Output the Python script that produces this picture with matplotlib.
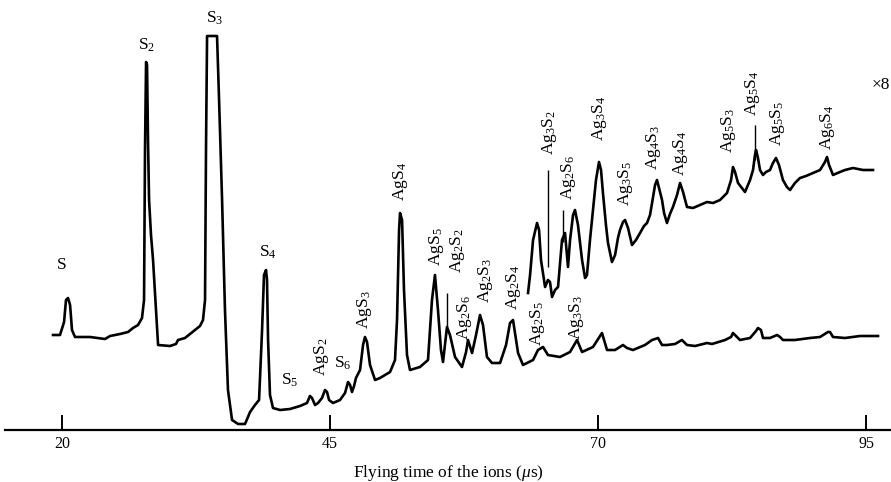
import matplotlib
matplotlib.use("Agg")
import matplotlib.pyplot as plt

# flying time (us) and signal (arbitrary units) of the main trace
main_t = [19.16, 19.81, 20.19, 20.37, 20.56, 20.75, 20.93, 21.21, 22.61, 24.01, 24.48, 25.41, 26.16,
          26.62, 27.09, 27.46, 27.65, 27.74, 27.84, 27.93, 28.02, 28.12, 28.30, 28.49, 28.96, 30.07,
          30.63, 30.82, 31.47, 31.94, 32.41, 32.87, 33.15, 33.34, 33.43, 33.53, 34.46, 34.65, 34.93,
          35.20, 35.48, 35.86, 36.42, 37.07, 37.54, 38.00, 38.38, 38.66, 38.84, 39.03, 39.12, 39.22,
          39.40, 39.68, 40.34, 41.27, 42.20, 42.85, 43.13, 43.32, 43.60, 43.88, 44.25, 44.53, 44.72,
          44.91, 45.28, 45.93, 46.40, 46.68, 46.87, 47.05, 47.24, 47.42, 47.80, 48.08, 48.26, 48.45,
          48.73, 49.20, 49.66, 50.60, 51.06, 51.25, 51.44, 51.53, 51.72, 51.90, 52.18, 52.46, 53.39,
          54.14, 54.51,
          54.79, 55.07, 55.35, 55.54, 55.72, 55.91, 56.19, 56.66, 57.31, 57.69, 57.87, 58.25, 58.62,
          58.99, 59.27, 59.64, 60.11, 60.86, 61.42, 61.79, 62.07, 62.54, 63.00, 63.94, 64.40, 64.87,
          65.33, 66.45, 67.39, 68.04, 68.51, 69.53, 70.37, 70.84,
          71.59, 72.33, 72.70, 73.26, 74.38, 75.04, 75.60, 75.97, 76.43, 77.18, 77.83, 78.30, 79.05,
          80.17, 80.63, 81.85, 82.41, 82.59, 82.87, 83.24, 84.18, 84.74, 84.92, 85.20, 85.39, 86.04,
          86.70, 86.98, 87.25, 88.37, 89.77, 90.71, 91.45, 91.64, 91.92, 93.04, 94.44, 96.12]
main_y = [95, 95, 108, 130, 132, 125, 100, 93, 93, 91, 94, 96, 98, 102, 105, 112, 130, 280, 368, 365,
          290, 230, 195, 170, 85, 84, 86, 90, 92, 96, 100, 104, 110, 130, 280, 394, 394, 330, 230, 120,
          40, 10, 6, 6, 18, 25, 30, 100, 155, 160, 150, 90, 35, 22, 20, 21, 24, 27, 34, 32, 25, 27, 32,
          40, 38, 30, 27, 30, 37, 48, 45, 38, 44, 52, 60, 85, 93, 88, 65, 50, 52, 58, 70, 110, 200, 217,
          210, 140, 75, 60, 63, 70, 130,
          155, 120, 80, 68, 85, 103, 95, 73, 63, 78, 90, 77, 95, 115, 105, 73, 67, 67, 85, 107, 110,
          77, 65, 70, 80, 83, 75, 73, 78, 90, 78, 83, 97, 80,
          80, 85, 82, 80, 85, 90, 92, 85, 85, 86, 90, 85, 84, 87, 86, 90, 93, 97, 94, 90, 92, 99, 102,
          100, 92, 92, 95, 93, 90, 90, 92, 93, 98, 98, 93, 92, 94, 94]

# expanded (x8) trace
zoom_t = [63.47, 63.66, 63.94, 64.31, 64.50, 64.68, 65.06, 65.33, 65.52, 65.71, 65.99, 66.27, 66.64,
          66.92, 67.20, 67.39, 67.67, 67.85, 68.13, 68.51, 68.79, 68.97, 69.25, 69.53, 69.81, 70.09,
          70.28, 70.46, 70.74, 70.93, 71.30, 71.59, 71.86, 72.05, 72.33, 72.52, 72.80, 73.17, 73.54,
          73.92, 74.29, 74.57, 74.85, 75.04, 75.32, 75.50, 75.69, 75.97, 76.16, 76.43, 76.71, 76.99,
          77.37, 77.65, 77.93, 78.30, 78.86, 79.51, 80.17, 80.73, 81.38, 82.03, 82.41, 82.59, 82.78,
          83.06, 83.71, 84.18, 84.46, 84.64, 84.74, 84.92, 85.11, 85.39, 85.67, 86.04, 86.32, 86.60,
          86.88, 87.25, 87.62, 87.91, 88.37, 88.84, 89.40, 90.05, 90.71, 91.17, 91.36, 91.55, 91.92,
          92.57, 93.04, 93.78, 94.72, 95.65]
zoom_y = [137, 155, 190, 207, 200, 170, 143, 150, 148, 133, 140, 143, 190, 197, 163, 190, 215, 220,
          205, 170, 152, 155, 190, 220, 250, 268, 260, 237, 205, 187, 168, 175, 192, 200, 208, 210,
          202, 185, 190, 197, 204, 207, 215, 227, 245, 250, 242, 230, 217, 207, 216, 223, 235, 247,
          238, 223, 222, 225, 228, 227, 230, 237, 250, 263, 258, 247, 238, 250, 260, 275, 280, 272,
          260, 255, 258, 260, 267, 272, 265, 250, 243, 240, 247, 252, 254, 257, 260, 268, 273, 265,
          255, 258, 260, 262, 260, 260]

# peak labels: text, time, height, rotation
labels = ["S", "S$_2$", "S$_3$", "S$_4$", "S$_5$", "S$_6$",
          "AgS$_2$", "AgS$_3$", "AgS$_4$", "AgS$_5$", "Ag$_2$S$_2$", "Ag$_2$S$_6$", "Ag$_2$S$_3$",
          "Ag$_2$S$_4$", "Ag$_2$S$_5$", "Ag$_3$S$_3$", "Ag$_3$S$_2$", "Ag$_2$S$_6$", "Ag$_3$S$_4$",
          "Ag$_3$S$_5$", "Ag$_4$S$_3$", "Ag$_4$S$_4$", "Ag$_5$S$_3$", "Ag$_5$S$_4$", "Ag$_5$S$_5$",
          "Ag$_6$S$_4$"]
label_t = [20.0, 27.84, 34.27, 39.22, 41.27, 46.21, 44.25, 48.26, 51.53, 54.89, 56.85, 57.59, 59.46,
           62.07, 64.40, 67.95, 65.52, 67.20, 70.18, 72.52, 75.13, 77.65, 82.13, 84.37, 86.70, 91.36]
label_y = [165, 385, 412, 178, 50, 67, 73, 120, 248, 183, 180, 113, 150, 143, 107, 113, 298, 253,
           312, 247, 283, 277, 300, 337, 307, 303]
label_rot = [0] * 6 + [90] * 20

# thin leader lines: time, bottom, top
lead_t = [65.33, 66.74, 55.91, 84.64]
lead_lo = [163, 188, 103, 270]
lead_hi = [260, 220, 137, 305]

plt.rcParams["font.family"] = ["Liberation Serif", "DejaVu Serif"]
plt.rcParams["mathtext.fontset"] = "custom"
plt.rcParams["mathtext.rm"] = "Liberation Serif"
plt.rcParams["mathtext.it"] = "Liberation Serif:italic"

fig = plt.figure(figsize=(8.91, 4.82), dpi=100)
ax = fig.add_axes([5 / 891, 52 / 482, 886 / 891, 430 / 482])

ax.plot(main_t, main_y, color="black", lw=1.9, solid_joinstyle="round")
ax.plot(zoom_t, zoom_y, color="black", lw=1.9, solid_joinstyle="round")
ax.vlines(lead_t, lead_lo, lead_hi, color="black", lw=1.0)

for txt, t, y, r in zip(labels, label_t, label_y, label_rot):
    ax.text(t, y, txt, rotation=r, ha="center", va="center", fontsize=12.5)
ax.text(97.25, 345, "×8", ha="right", va="center", fontsize=12.5)

ax.set_xlim(14.68, 97.33)
ax.set_ylim(0, 430)
for side in ["left", "right", "top"]:
    ax.spines[side].set_visible(False)
ax.spines["bottom"].set_linewidth(1.6)
ax.set_yticks([])
ax.set_xticks([20, 45, 70, 95])
ax.tick_params(axis="x", direction="in", length=11, width=1.4, labelsize=11.5, pad=4)
ax.set_xlabel("Flying time of the ions ($\\mu$s)", fontsize=12.5, labelpad=8)

fig.savefig("out.png", dpi=100)
